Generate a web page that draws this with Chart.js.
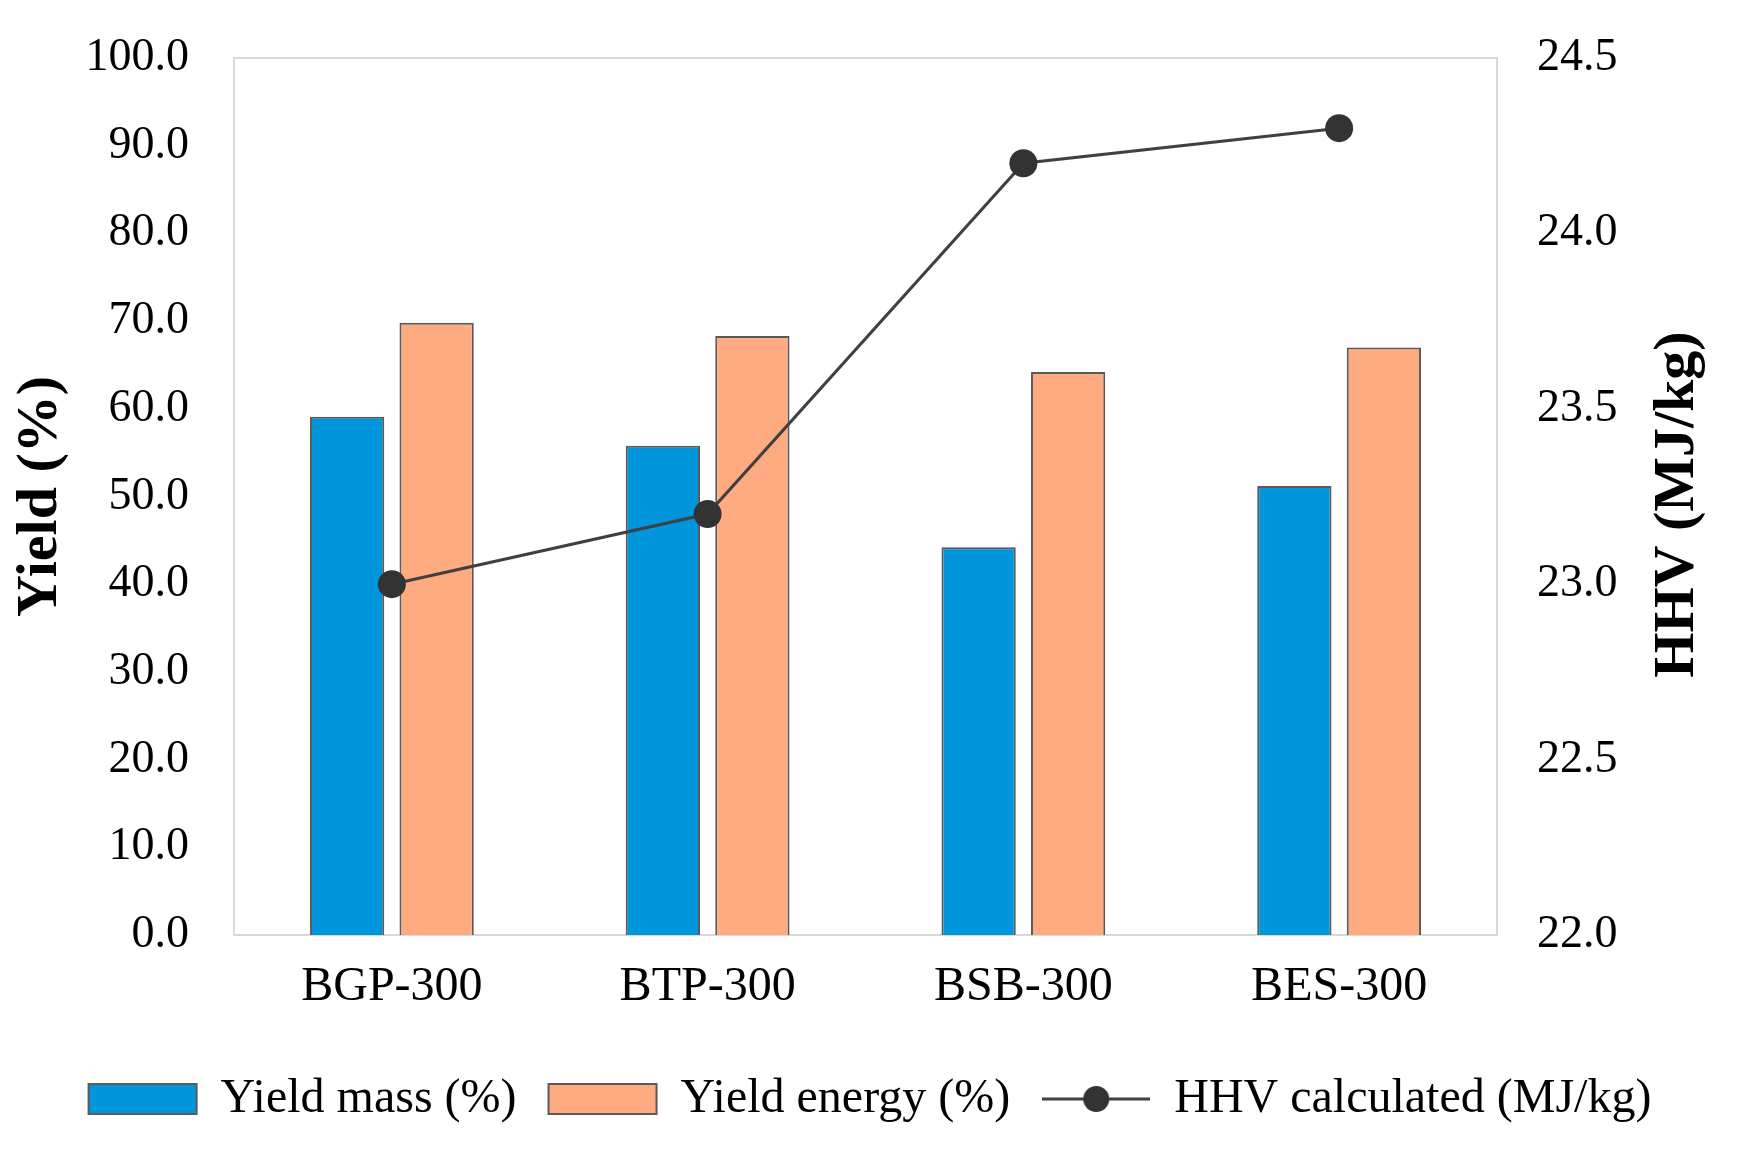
<!DOCTYPE html>
<html>
<head>
<meta charset="utf-8">
<title>Yield and HHV</title>
<script src="https://cdn.jsdelivr.net/npm/chart.js@4.4.1/dist/chart.umd.min.js"></script>
<style>
  html, body { margin: 0; padding: 0; background: #fff; }
  #chart { display: block; }
</style>
</head>
<body>
<canvas id="chart" width="1740" height="1150"></canvas>
<script>
// data
var categories = ['BGP-300', 'BTP-300', 'BSB-300', 'BES-300'];
var yieldMass = [59.1, 55.8, 44.2, 51.2];
var yieldEnergy = [69.8, 68.3, 64.2, 67.0];
var hhvCalc = [23.0, 23.2, 24.2, 24.3];

var seriesNames = ['Yield mass (%)', 'Yield energy (%)', 'HHV calculated (MJ/kg)'];
var leftTitle = 'Yield (%)';
var rightTitle = 'HHV (MJ/kg)';

var FONT = "'Liberation Serif', 'Times New Roman', serif";
Chart.defaults.font.family = FONT;
Chart.defaults.color = '#000';

var blue = '#0096dc';
var orange = '#ffab81';
var barEdge = '#5a5a5a';
var lineCol = '#404040';
var dotCol = '#333333';

// legend marker for the line series: a line with a dot on it
var lineMarker = document.createElement('canvas');
lineMarker.width = 108;
lineMarker.height = 30;
(function () {
    var c = lineMarker.getContext('2d');
    c.strokeStyle = lineCol;
    c.lineWidth = 3;
    c.beginPath();
    c.moveTo(0, 15);
    c.lineTo(108, 15);
    c.stroke();
    c.fillStyle = dotCol;
    c.beginPath();
    c.arc(54, 15, 13, 0, Math.PI * 2);
    c.fill();
})();

// light grey frame round the plot area
var plotFrame = {
    id: 'plotFrame',
    beforeDatasetsDraw: function (chart) {
        var a = chart.chartArea;
        var ctx = chart.ctx;
        ctx.save();
        ctx.strokeStyle = '#d9d9d9';
        ctx.lineWidth = 2;
        ctx.strokeRect(a.left, a.top, a.right - a.left, a.bottom - a.top);
        ctx.restore();
    }
};

// right axis title reads bottom to top, like the left one
var rightAxisTitle = {
    id: 'rightAxisTitle',
    afterDraw: function (chart) {
        var a = chart.chartArea;
        var ctx = chart.ctx;
        ctx.save();
        ctx.translate(a.right + 181, (a.top + a.bottom) / 2 + 8);
        ctx.rotate(-Math.PI / 2);
        ctx.font = 'bold 58px ' + FONT;
        ctx.fillStyle = '#000';
        ctx.textAlign = 'center';
        ctx.textBaseline = 'middle';
        ctx.fillText(rightTitle, 0, 0);
        ctx.restore();
    }
};

function fixVertical(width) {
    return function (scale) {
        scale.width = width;
        scale.paddingTop = 0;
        scale.paddingBottom = 0;
    };
}

var ctx = document.getElementById('chart').getContext('2d');
var chart = new Chart(ctx, {
    type: 'bar',
    data: {
        labels: categories,
        datasets: [{
            label: seriesNames[0],
            data: yieldMass,
            backgroundColor: blue,
            borderColor: barEdge,
            borderWidth: 2,
            yAxisID: 'y',
            order: 1
        }, {
            label: seriesNames[1],
            data: yieldEnergy,
            backgroundColor: orange,
            borderColor: barEdge,
            borderWidth: 2,
            yAxisID: 'y',
            order: 1
        }, {
            type: 'line',
            label: seriesNames[2],
            data: hhvCalc,
            borderColor: lineCol,
            borderWidth: 3,
            pointRadius: 14,
            pointBackgroundColor: dotCol,
            pointBorderColor: dotCol,
            pointBorderWidth: 0,
            tension: 0,
            yAxisID: 'y1',
            order: 0
        }]
    },
    options: {
        responsive: false,
        animation: false,
        categoryPercentage: 0.567,
        barPercentage: 0.83,
        layout: {
            padding: { top: 58, left: 0, right: 0, bottom: 17 }
        },
        plugins: {
            tooltip: { enabled: false },
            legend: {
                position: 'bottom',
                labels: {
                    usePointStyle: true,
                    pointStyleWidth: 108,
                    boxHeight: 30,
                    padding: 32,
                    font: { size: 48 },
                    sort: function (a, b) { return a.datasetIndex - b.datasetIndex; },
                    generateLabels: function (chart) {
                        var items = Chart.defaults.plugins.legend.labels.generateLabels(chart);
                        items.forEach(function (it) {
                            if (it.datasetIndex < 2) {
                                it.pointStyle = 'rect';
                                it.fillStyle = it.datasetIndex === 0 ? blue : orange;
                                it.strokeStyle = barEdge;
                                it.lineWidth = 2;
                            } else {
                                it.pointStyle = lineMarker;
                            }
                        });
                        return items;
                    }
                }
            }
        },
        scales: {
            x: {
                grid: { display: false, drawTicks: false },
                border: { display: false },
                ticks: { font: { size: 48 }, padding: 24 },
                afterFit: function (scale) { scale.height = 108; }
            },
            y: {
                position: 'left',
                min: 0,
                max: 100,
                grid: { display: false, drawTicks: false },
                border: { display: false },
                ticks: {
                    stepSize: 10,
                    padding: 45,
                    font: { size: 46 },
                    callback: function (v) { return v.toFixed(1); }
                },
                title: {
                    display: true,
                    text: leftTitle,
                    font: { size: 58, weight: 'bold' },
                    padding: { top: 6, bottom: 4 }
                },
                afterFit: fixVertical(234)
            },
            y1: {
                position: 'right',
                min: 22,
                max: 24.5,
                grid: { display: false, drawTicks: false },
                border: { display: false },
                ticks: {
                    stepSize: 0.5,
                    padding: 40,
                    font: { size: 46 },
                    callback: function (v) { return v.toFixed(1); }
                },
                afterFit: fixVertical(243)
            }
        }
    },
    plugins: [plotFrame, rightAxisTitle]
});
</script>
</body>
</html>
